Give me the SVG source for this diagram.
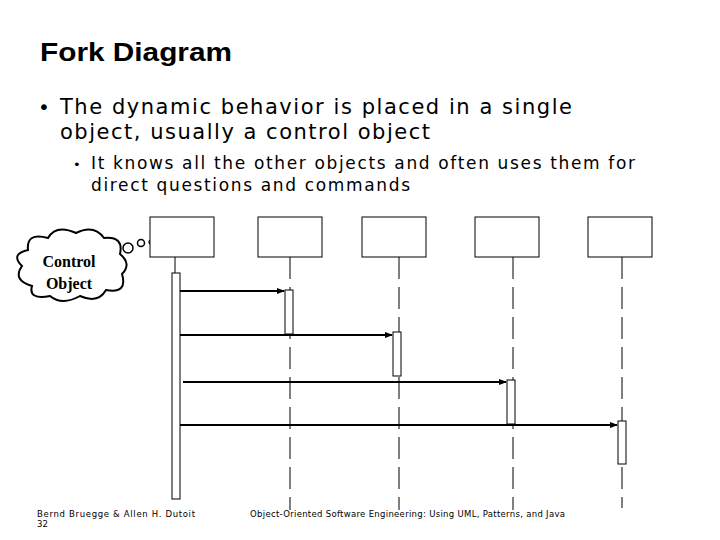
<svg xmlns="http://www.w3.org/2000/svg" width="720" height="540" viewBox="0 0 720 540">
<style>
.box{fill:#fff;stroke:#000;stroke-width:1}
.life{stroke:#000;stroke-width:1;stroke-dasharray:22,8;fill:none}
.act{fill:#fff;stroke:#000;stroke-width:1}
.msg{stroke:#000;stroke-width:2;fill:none}
.t{font-family:"DejaVu Sans",Verdana,sans-serif;fill:#000}
.c{font-family:"Liberation Serif",serif;font-weight:bold;font-size:16px}
</style>
<defs><marker id="ah" markerWidth="8" markerHeight="8" refX="7" refY="4" orient="auto" markerUnits="userSpaceOnUse"><path d="M0,1 L8,4 L0,7 Z" fill="#000"/></marker></defs>
<rect width="720" height="540" fill="#fff"/>
<text x="40" y="61" font-family="Liberation Sans,Arial,sans-serif" font-weight="bold" font-size="26" textLength="192" lengthAdjust="spacingAndGlyphs">Fork Diagram</text>
<text class="t" x="38" y="114" font-size="20">•</text>
<text class="t" x="60" y="114" font-size="21" textLength="512" lengthAdjust="spacing">The dynamic behavior is placed in a single</text>
<text class="t" x="60" y="139" font-size="21" textLength="370" lengthAdjust="spacing">object, usually a control object</text>
<text class="t" x="73" y="169" font-size="13">•</text>
<text class="t" x="91" y="169" font-size="17" textLength="544" lengthAdjust="spacing">It knows all the other objects and often uses them for</text>
<text class="t" x="91" y="191" font-size="17" textLength="319" lengthAdjust="spacing">direct questions and commands</text>
<g id="cloud">
<path d="M28,250 Q26,232 48,238 Q56,224 76,233 Q94,224 104,238 Q124,236 120,254 Q132,264 122,274 Q128,294 106,290 Q98,304 80,296 Q62,306 50,296 Q28,300 32,286 Q12,280 22,266 Q10,254 28,250 Z" fill="#fff" stroke="#000" stroke-width="2"/>
<circle cx="128" cy="248" r="5" fill="#fff" stroke="#000" stroke-width="1.5"/>
<circle cx="141" cy="243" r="3.5" fill="#fff" stroke="#000" stroke-width="1.5"/>
<circle cx="151" cy="242" r="2" fill="#fff" stroke="#000" stroke-width="1.2"/>
<text class="c" x="69" y="267" text-anchor="middle">Control</text>
<text class="c" x="69" y="289" text-anchor="middle">Object</text>
</g>
<g id="obj1"><rect class="box" x="150" y="217" width="64" height="40"/><line x1="175" y1="257" x2="175" y2="273" stroke="#000"/><rect class="act" x="172" y="273" width="8" height="226"/></g>
<g id="obj2"><rect class="box" x="258" y="217" width="64" height="40"/><line class="life" x1="290" y1="257" x2="290" y2="510"/><rect class="act" x="285" y="290" width="8" height="44"/></g>
<g id="obj3"><rect class="box" x="362" y="217" width="64" height="40"/><line class="life" x1="399" y1="257" x2="399" y2="510"/><rect class="act" x="393" y="332" width="8" height="44"/></g>
<g id="obj4"><rect class="box" x="475" y="217" width="64" height="40"/><line class="life" x1="513" y1="257" x2="513" y2="510"/><rect class="act" x="507" y="380" width="8" height="44"/></g>
<g id="obj5"><rect class="box" x="588" y="217" width="64" height="40"/><line class="life" x1="622" y1="257" x2="622" y2="508"/><rect class="act" x="618" y="421" width="8" height="43"/></g>
<g id="connectors">
<line class="msg" x1="180" y1="291" x2="284" y2="291" marker-end="url(#ah)"/>
<line class="msg" x1="180" y1="335" x2="392" y2="335" marker-end="url(#ah)"/>
<line class="msg" x1="183" y1="382" x2="506" y2="382" marker-end="url(#ah)"/>
<line class="msg" x1="180" y1="425" x2="617" y2="425" marker-end="url(#ah)"/>
</g>
<text class="t" x="37" y="517" font-size="8.5" textLength="158" lengthAdjust="spacing">Bernd Bruegge &amp; Allen H. Dutoit</text>
<text class="t" x="37" y="527" font-size="8.5">32</text>
<text class="t" x="250" y="517" font-size="8.5" textLength="315" lengthAdjust="spacing">Object-Oriented Software Engineering: Using UML, Patterns, and Java</text>
</svg>
